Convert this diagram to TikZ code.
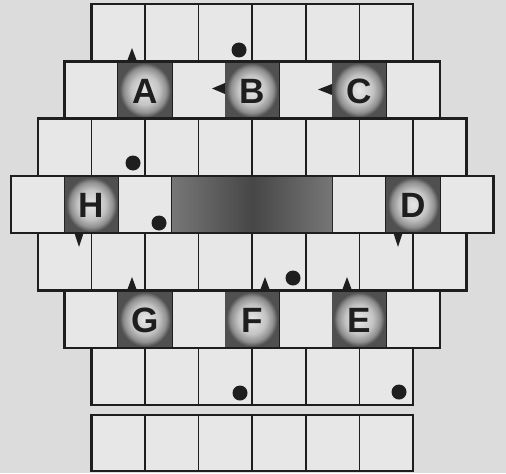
\documentclass[tikz,border=0pt]{standalone}
\usepackage{fontspec}
\setsansfont{Liberation Sans}
\definecolor{paper}{HTML}{DCDCDC}
\definecolor{cellgray}{HTML}{E7E7E7}
\definecolor{ink}{HTML}{1E1E1E}
\definecolor{darkcell}{HTML}{505050}
\pgfdeclareradialshading{glow}{\pgfpoint{0bp}{0bp}}{color(0bp)=(cellgray); color(13bp)=(cellgray!85!black); color(20bp)=(cellgray!62!black); color(24bp)=(darkcell); color(50bp)=(darkcell)}

\begin{document}
\begin{tikzpicture}[x=0.02cm, y=-0.02cm,
    cell/.style={fill=cellgray, draw=ink, line width=0.9pt},
    rowline/.style={draw=ink, line width=1.4pt},
    letter/.style={font=\sffamily\bfseries\fontsize{20}{24}\selectfont, text=ink}]
  \fill[paper] (0,0) rectangle (506,473);
  \useasboundingbox (0,0) rectangle (506,473);

  % rows of the board: top, left edge, number of cells, height
  \foreach \top/\xa/\n/\h in {4/91.4/6/57.3, 61.3/64.6/7/57.3, 118.6/37.8/8/57.3,
      175.9/11/9/57.3, 233.2/37.8/8/57.3, 290.5/64.6/7/57.3, 347.8/91.4/6/57.3, 415/91.4/6/56}{
    \foreach \c in {1,...,\n}
      \draw[cell] ({\xa+(\c-1)*53.6},\top) rectangle ++(53.6,\h);
  }

  % long block in the middle row
  \shade[left color=darkcell!78!white, right color=darkcell!78!white, middle color=darkcell!88!black]
    (172.2,176.5) rectangle (332.2,232.6);

  % dark squares with the letters
  \foreach \name/\cx/\cy in {A/145/90, B/251.8/90, C/359/90, H/91.4/204.5,
      D/413/204.5, G/145/319.2, F/251.8/319.2, E/359/319.2}{
    \shade[shading=glow] (\cx-26.6,\cy-28.4) rectangle (\cx+26.6,\cy+28.4);
    \node[letter] (\name) at (\cx,\cy+1) {\name};
  }

  % outlines of the rows
  \foreach \top/\xa/\n/\h in {4/91.4/6/57.3, 61.3/64.6/7/57.3, 118.6/37.8/8/57.3,
      175.9/11/9/57.3, 233.2/37.8/8/57.3, 290.5/64.6/7/57.3, 347.8/91.4/6/57.3, 415/91.4/6/56}
    \draw[rowline] (\xa,\top) rectangle ++({\n*53.6},\h);

  % small pointers
  \fill[ink] (127,61.3) -- (132,48) -- (137,61.3) -- cycle;
  \fill[ink] (225,83) -- (212,88.5) -- (225,94) -- cycle;
  \fill[ink] (332,84) -- (318,89.5) -- (332,95) -- cycle;
  \fill[ink] (74.5,233.2) -- (79,247) -- (83.5,233.2) -- cycle;
  \fill[ink] (393.5,233.2) -- (398,247) -- (402.5,233.2) -- cycle;
  \fill[ink] (127,290.5) -- (132,277) -- (137,290.5) -- cycle;
  \fill[ink] (260,290.5) -- (265,277) -- (270,290.5) -- cycle;
  \fill[ink] (342,290.5) -- (347,277) -- (352,290.5) -- cycle;

  % round counters
  \fill[ink] (239,50) circle (7.5);
  \fill[ink] (133,163) circle (7.5);
  \fill[ink] (159,223) circle (7.5);
  \fill[ink] (293,278) circle (7.5);
  \fill[ink] (240,393) circle (7.5);
  \fill[ink] (399,392) circle (7.5);
\end{tikzpicture}
\end{document}
